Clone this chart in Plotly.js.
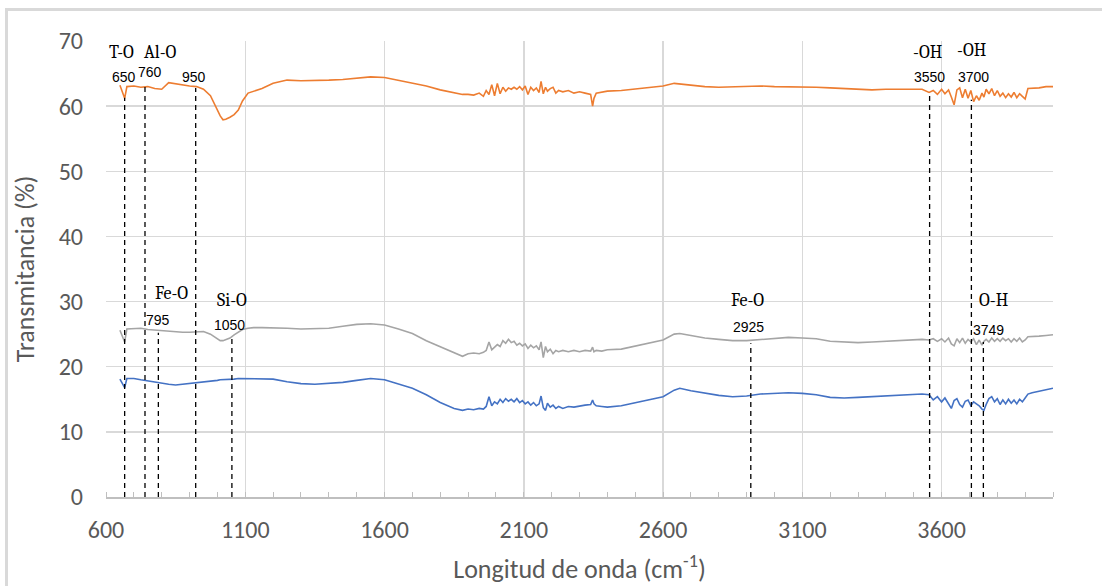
<!DOCTYPE html>
<html>
<head>
<meta charset="utf-8">
<script src="https://cdn.plot.ly/plotly-3.0.1.min.js"></script>
<style>
  html, body { margin: 0; padding: 0; background: #ffffff; overflow: hidden; }
  #wrap { position: relative; width: 1102px; height: 586px; }
  #chart { width: 1102px; height: 586px; }
  #frame { position: absolute; left: 5px; top: 8px; width: 1120px; height: 620px;
           border: 3px solid #d9d9d9; pointer-events: none; box-sizing: border-box; }
</style>
</head>
<body>
<div id="wrap"><div id="chart"></div><div id="frame"></div></div>
<script>
// ---- wavenumber (cm-1), in segments ----
const xA = [650, 667, 675, 700, 725, 750, 775, 800, 825, 850, 875, 900, 925, 950, 975, 1000, 1010, 1020, 1030, 1045, 1060, 1075, 1090, 1110, 1130, 1160];
const xB = [1200, 1250, 1300, 1350, 1400, 1450, 1500, 1550, 1600, 1650, 1700, 1750, 1800, 1850, 1880, 1900, 1920, 1940];
const xC = [1955, 1965, 1975, 1985, 1995, 2005, 2015, 2025, 2035, 2045, 2055, 2065, 2075, 2085, 2095, 2105, 2115, 2125, 2135, 2145, 2155, 2162, 2170, 2178, 2185, 2195, 2205, 2215, 2225, 2240, 2260, 2280, 2300, 2320, 2340, 2347, 2352, 2360, 2380, 2400];
const xD = [2450, 2500, 2550, 2600, 2640, 2660, 2700, 2750, 2800, 2850, 2900, 2950, 3000, 3050, 3100, 3150, 3200, 3250, 3300, 3350, 3400, 3450, 3500];
const xE = [3530, 3555, 3570, 3585, 3600, 3612, 3625, 3635, 3645, 3655, 3665, 3675, 3685, 3695, 3705, 3715, 3725, 3735, 3745, 3752, 3760, 3770, 3780, 3790, 3800, 3810, 3820, 3830, 3840, 3850, 3860, 3870, 3880, 3890, 3900, 3910, 3925, 3950, 3975, 4000];

// ---- orange series (%T) ----
const orangeA = [63.2, 61.2, 63.0, 63.1, 62.9, 63.0, 62.7, 62.6, 63.6, 63.4, 63.2, 63.1, 63.0, 62.6, 61.6, 59.3, 58.5, 57.9, 58.0, 58.3, 58.7, 59.4, 60.8, 62.0, 62.3, 62.7];
const orangeB = [63.5, 64.0, 63.9, 63.9, 64.0, 64.1, 64.3, 64.5, 64.4, 64.0, 63.6, 63.1, 62.5, 62.0, 61.8, 61.8, 61.7, 62.0];
const orangeC = [61.5, 62.4, 61.8, 63.3, 61.6, 63.5, 61.9, 62.9, 62.3, 62.8, 62.6, 62.9, 62.6, 63.0, 62.5, 63.1, 61.8, 62.9, 62.4, 62.8, 62.1, 63.8, 61.9, 62.9, 62.3, 62.7, 62.9, 62.0, 62.4, 62.2, 62.4, 62.0, 62.2, 62.0, 61.8, 60.0, 61.2, 62.0, 62.1, 62.3];
const orangeD = [62.4, 62.6, 62.9, 63.1, 63.5, 63.4, 63.2, 63.0, 62.9, 63.0, 63.1, 63.1, 63.0, 63.0, 63.0, 62.9, 62.8, 62.7, 62.5, 62.5, 62.6, 62.6, 62.7];
const orangeE = [62.6, 62.1, 62.4, 61.8, 62.6, 61.9, 62.5, 61.4, 60.2, 62.5, 62.8, 61.3, 62.6, 61.2, 62.4, 60.7, 61.6, 60.9, 62.0, 61.4, 62.6, 61.9, 62.7, 61.6, 62.4, 61.5, 62.0, 61.3, 61.9, 61.4, 62.1, 61.3, 61.9, 61.5, 61.1, 62.7, 62.7, 62.8, 63.0, 63.0];

// ---- gray series (%T) ----
const grayA = [25.6, 23.8, 25.8, 25.9, 25.9, 25.7, 25.6, 25.5, 25.5, 25.4, 25.3, 25.3, 25.3, 25.4, 25.0, 24.3, 24.0, 24.0, 24.2, 24.4, 24.9, 25.3, 25.7, 25.9, 26.0, 26.0];
const grayB = [26.0, 25.9, 25.8, 25.8, 25.9, 26.2, 26.5, 26.6, 26.4, 25.8, 25.1, 24.0, 23.1, 22.2, 21.6, 22.0, 22.1, 22.0];
const grayC = [22.2, 22.5, 23.8, 22.6, 23.0, 23.4, 23.1, 24.0, 23.6, 24.2, 23.7, 23.9, 23.3, 23.6, 23.2, 23.5, 22.8, 23.3, 22.9, 23.2, 22.6, 23.8, 21.4, 23.1, 22.3, 22.7, 22.0, 22.5, 22.3, 22.5, 22.3, 22.5, 22.3, 22.5, 22.4, 23.0, 22.3, 22.5, 22.4, 22.6];
const grayD = [22.7, 23.2, 23.6, 24.1, 25.0, 25.1, 24.8, 24.4, 24.2, 24.0, 24.0, 24.2, 24.4, 24.5, 24.4, 24.3, 23.9, 23.8, 23.7, 23.8, 23.9, 24.1, 24.2];
const grayE = [24.2, 24.1, 24.3, 23.9, 24.3, 23.8, 24.4, 23.5, 23.2, 24.3, 23.7, 24.4, 23.6, 24.2, 23.8, 24.3, 23.4, 24.1, 23.3, 23.9, 24.2, 23.8, 24.4, 23.9, 24.3, 23.9, 24.4, 24.0, 24.3, 23.8, 24.3, 23.9, 24.4, 23.8, 24.1, 24.6, 24.6, 24.7, 24.8, 24.9];

// ---- blue series (%T) ----
const blueA = [18.1, 16.8, 18.2, 18.2, 18.0, 17.8, 17.6, 17.4, 17.3, 17.2, 17.3, 17.4, 17.5, 17.6, 17.8, 17.9, 18.0, 18.0, 18.1, 18.1, 18.1, 18.2, 18.2, 18.2, 18.1, 18.1];
const blueB = [18.1, 17.7, 17.4, 17.3, 17.4, 17.6, 17.9, 18.2, 18.0, 17.4, 16.7, 15.7, 14.5, 13.6, 13.3, 13.5, 13.4, 13.6];
const blueC = [13.5, 13.9, 15.4, 14.0, 14.6, 14.3, 15.0, 14.5, 15.1, 14.7, 15.0, 14.6, 15.1, 14.5, 14.8, 14.3, 14.6, 14.1, 14.5, 14.0, 14.3, 15.5, 13.7, 13.3, 14.4, 13.8, 14.1, 13.6, 13.9, 13.6, 13.9, 13.8, 14.0, 14.1, 14.2, 14.9, 14.3, 14.0, 13.9, 13.8];
const blueD = [14.0, 14.5, 15.0, 15.4, 16.4, 16.7, 16.3, 15.9, 15.6, 15.4, 15.5, 15.8, 15.9, 16.0, 15.9, 15.7, 15.3, 15.2, 15.3, 15.4, 15.5, 15.6, 15.8];
const blueE = [15.8, 15.7, 14.9, 15.4, 14.6, 15.2, 14.3, 13.6, 14.8, 15.1, 14.2, 13.8, 14.7, 14.9, 14.0, 14.6, 14.3, 14.0, 13.5, 13.3, 14.2, 15.1, 15.4, 14.6, 15.1, 14.2, 14.9, 14.3, 15.0, 14.4, 14.9, 14.3, 15.0, 14.6, 15.2, 15.8, 16.0, 16.2, 16.5, 16.7];

// ---- x-axis tick labels ----
const xTicks = [600, 1100, 1600, 2100, 2600, 3100, 3600];

// ---- band markers: label, where the dashed line stands, how high it reaches ----
const bandLabels = ['650', '760', '795', '950', '1050', '2925', '3550', '3700', '3749'];
const bandLineX  = [667, 740, 788, 922, 1052, 2915, 3557, 3707, 3750];
const bandLineTop = [61.3, 63.0, 25.2, 62.8, 24.4, 23.6, 61.7, 61.0, 23.8];
const groupLabels = ['T-O', 'Al-O', 'Fe-O', 'Si-O', 'Fe-O', '-OH', '-OH', 'O-H'];

const wavenumber = xA.concat(xB, xC, xD, xE);
const orange = orangeA.concat(orangeB, orangeC, orangeD, orangeE);
const gray = grayA.concat(grayB, grayC, grayD, grayE);
const blue = blueA.concat(blueB, blueC, blueD, blueE);

const traces = [
  { x: wavenumber, y: orange, type: 'scatter', mode: 'lines', line: { color: '#ED7D31', width: 1.6 }, hoverinfo: 'skip' },
  { x: wavenumber, y: gray,   type: 'scatter', mode: 'lines', line: { color: '#A5A5A5', width: 1.6 }, hoverinfo: 'skip' },
  { x: wavenumber, y: blue,   type: 'scatter', mode: 'lines', line: { color: '#4472C4', width: 1.6 }, hoverinfo: 'skip' }
];

const shapes = bandLineX.map((bx, i) => ({
  type: 'line', xref: 'x', yref: 'y', x0: bx, x1: bx, y0: 0, y1: bandLineTop[i],
  line: { color: '#000000', width: 1.3, dash: '5px,4px' }
}));

// placement of the texts (data units)
const numPos = [[665, 64.5], [758, 65.3], [787, 27.2], [916, 64.5], [1042, 26.4], [2908, 26.1], [3555, 64.5], [3716, 64.5], [3767, 25.6]];
const groupPos = [[654, 68.3], [794, 68.3], [834, 31.3], [1053, 30.1], [2904, 30.2], [3550, 68.3], [3709, 68.5], [3788, 30.2]];

const numFont = { family: "'Liberation Sans Narrow', 'Arial Narrow', 'Liberation Sans', sans-serif", size: 14, color: '#000000' };
const grpFont = { family: "Cambria, 'Liberation Serif', 'DejaVu Serif', serif", size: 18, color: '#000000' };

const annotations = [];
bandLabels.forEach((t, i) => annotations.push({
  x: numPos[i][0], y: numPos[i][1], xref: 'x', yref: 'y', text: t, showarrow: false,
  xanchor: 'center', yanchor: 'middle', font: numFont
}));
groupLabels.forEach((t, i) => annotations.push({
  x: groupPos[i][0], y: groupPos[i][1], xref: 'x', yref: 'y', text: t, showarrow: false,
  xanchor: 'center', yanchor: 'middle', font: grpFont
}));

const tickFont = { family: "Carlito, Calibri, 'Open Sans', sans-serif", size: 24, color: '#595959' };
const titleFont = { family: "Carlito, Calibri, 'Open Sans', sans-serif", size: 26, color: '#595959' };

const layout = {
  width: 1102, height: 586,
  margin: { l: 106, r: 49, t: 41, b: 89 },
  paper_bgcolor: '#ffffff', plot_bgcolor: '#ffffff',
  showlegend: false,
  xaxis: {
    range: [600, 4000], tickmode: 'array', tickvals: xTicks, ticktext: xTicks.map(String),
    showgrid: true, gridcolor: '#d9d9d9', gridwidth: 1.5,
    zeroline: false, showline: true, linecolor: '#bfbfbf', linewidth: 1.5,
    ticks: '', tickfont: tickFont, ticklabelstandoff: 11,
    minor: { dtick: 100, tick0: 600, ticks: 'inside', ticklen: 5, tickcolor: '#bfbfbf', tickwidth: 1, showgrid: false },
    title: { text: 'Longitud de onda (cm<sup>-1</sup>)', font: titleFont, standoff: 16 }
  },
  yaxis: {
    range: [0, 70], dtick: 10, tick0: 0,
    showgrid: true, gridcolor: '#d9d9d9', gridwidth: 1.5,
    zeroline: false, showline: false, ticks: '', tickfont: tickFont, ticklabelstandoff: 22,
    title: { text: 'Transmitancia (%)', font: titleFont, standoff: 16 }
  },
  shapes: shapes,
  annotations: annotations
};

Plotly.newPlot('chart', traces, layout, { displayModeBar: false, staticPlot: true });
</script>
</body>
</html>
